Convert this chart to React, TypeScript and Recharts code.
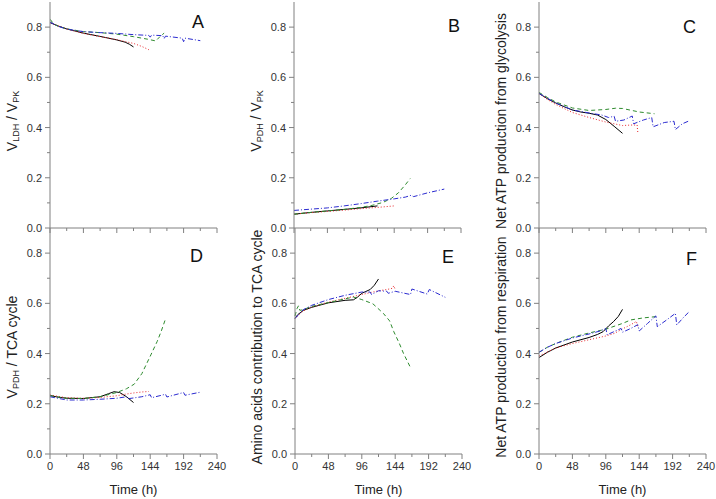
import { Line, LineChart, XAxis, YAxis } from "recharts";

type Pt = [number, number];

// Time axis (h) and ratio axis ticks; every second tick gets a label.
const timeTicks = [0, 24, 48, 72, 96, 120, 144, 168, 192, 216, 240];
const ratioTicks = [0, 0.1, 0.2, 0.3, 0.4, 0.5, 0.6, 0.7, 0.8];

// A: V_LDH / V_PK
const aBlack: Pt[] = [[0, 0.818], [12, 0.804], [24, 0.793], [48, 0.776], [72, 0.763], [96, 0.749], [108, 0.74], [114, 0.732], [120, 0.721]];
const aRed: Pt[] = [[0, 0.818], [24, 0.792], [48, 0.775], [72, 0.762], [96, 0.75], [120, 0.735], [132, 0.723], [142, 0.71]];
const aGreen: Pt[] = [[0, 0.83], [2, 0.826], [4, 0.814], [12, 0.803], [24, 0.793], [48, 0.782], [72, 0.778], [96, 0.772], [120, 0.762], [140, 0.752], [152, 0.745], [158, 0.762], [164, 0.776]];
const aBlue: Pt[] = [[0, 0.82], [12, 0.803], [24, 0.792], [48, 0.782], [72, 0.778], [96, 0.775], [120, 0.77], [142, 0.767], [144, 0.76], [146, 0.768], [162, 0.766], [164, 0.754], [166, 0.764], [190, 0.756], [192, 0.742], [194, 0.756], [216, 0.746]];

// B: V_PDH / V_PK
const bBlack: Pt[] = [[0, 0.055], [24, 0.062], [48, 0.068], [72, 0.074], [96, 0.08], [120, 0.088]];
const bRed: Pt[] = [[0, 0.055], [24, 0.061], [48, 0.066], [72, 0.071], [96, 0.077], [120, 0.082], [144, 0.088]];
const bGreen: Pt[] = [[0, 0.055], [24, 0.062], [48, 0.068], [72, 0.074], [96, 0.082], [112, 0.09], [128, 0.102], [140, 0.118], [150, 0.14], [160, 0.172], [167, 0.197]];
const bBlue: Pt[] = [[0, 0.07], [24, 0.075], [48, 0.08], [72, 0.088], [96, 0.097], [120, 0.107], [144, 0.116], [160, 0.123], [168, 0.13], [172, 0.125], [192, 0.14], [216, 0.155]];

// C: Net ATP production from glycolysis
const cBlack: Pt[] = [[0, 0.536], [12, 0.515], [24, 0.498], [36, 0.483], [48, 0.47], [60, 0.462], [72, 0.457], [84, 0.45], [96, 0.432], [108, 0.405], [120, 0.377]];
const cRed: Pt[] = [[0, 0.536], [12, 0.512], [24, 0.492], [48, 0.46], [72, 0.44], [96, 0.422], [120, 0.408], [132, 0.41], [141, 0.41], [142, 0.38]];
const cGreen: Pt[] = [[0, 0.54], [12, 0.52], [24, 0.502], [48, 0.478], [72, 0.468], [96, 0.472], [110, 0.477], [120, 0.476], [144, 0.462], [166, 0.455]];
const cBlue: Pt[] = [[0, 0.536], [24, 0.498], [48, 0.47], [72, 0.458], [90, 0.45], [100, 0.44], [108, 0.445], [110, 0.425], [122, 0.43], [134, 0.446], [136, 0.415], [150, 0.43], [162, 0.44], [164, 0.403], [180, 0.42], [194, 0.425], [196, 0.392], [206, 0.415], [216, 0.427]];

// D: V_PDH / TCA cycle
const dBlack: Pt[] = [[0, 0.233], [12, 0.226], [24, 0.222], [48, 0.221], [72, 0.228], [84, 0.24], [92, 0.248], [100, 0.245], [110, 0.228], [120, 0.205]];
const dRed: Pt[] = [[0, 0.235], [24, 0.224], [48, 0.222], [72, 0.225], [96, 0.232], [108, 0.238], [120, 0.243], [132, 0.247], [142, 0.249]];
const dGreen: Pt[] = [[0, 0.232], [24, 0.222], [48, 0.221], [72, 0.228], [96, 0.245], [110, 0.26], [121, 0.278], [132, 0.32], [145, 0.395], [154, 0.448], [160, 0.49], [166, 0.538]];
const dBlue: Pt[] = [[0, 0.228], [24, 0.215], [48, 0.215], [72, 0.218], [96, 0.222], [110, 0.228], [112, 0.22], [132, 0.228], [144, 0.236], [146, 0.224], [166, 0.238], [168, 0.227], [192, 0.245], [194, 0.234], [216, 0.246]];

// E: Amino acids contribution to TCA cycle
const eBlack: Pt[] = [[0, 0.54], [4, 0.555], [12, 0.572], [24, 0.584], [48, 0.602], [72, 0.612], [84, 0.614], [90, 0.625], [96, 0.64], [108, 0.655], [114, 0.672], [120, 0.697]];
const eRed: Pt[] = [[0, 0.54], [12, 0.57], [24, 0.585], [48, 0.605], [72, 0.62], [96, 0.635], [120, 0.65], [132, 0.655], [140, 0.66], [142, 0.67], [144, 0.655]];
const eGreen: Pt[] = [[0, 0.55], [3, 0.58], [5, 0.59], [7, 0.572], [12, 0.575], [24, 0.588], [48, 0.603], [72, 0.618], [84, 0.625], [96, 0.615], [112, 0.598], [127, 0.56], [136, 0.53], [142, 0.487], [150, 0.44], [156, 0.4], [166, 0.344]];
const eBlue: Pt[] = [[0, 0.54], [12, 0.575], [24, 0.592], [48, 0.615], [72, 0.632], [96, 0.645], [108, 0.645], [110, 0.635], [120, 0.65], [132, 0.648], [134, 0.64], [144, 0.648], [166, 0.635], [168, 0.657], [190, 0.637], [193, 0.655], [216, 0.624]];

// F: Net ATP production from respiration
const fBlack: Pt[] = [[0, 0.384], [12, 0.405], [24, 0.422], [48, 0.446], [72, 0.464], [84, 0.476], [92, 0.487], [100, 0.51], [107, 0.527], [114, 0.548], [120, 0.576]];
const fRed: Pt[] = [[0, 0.39], [24, 0.422], [48, 0.44], [72, 0.455], [96, 0.47], [108, 0.48], [120, 0.498], [132, 0.515], [140, 0.528], [142, 0.505]];
const fGreen: Pt[] = [[0, 0.405], [12, 0.425], [24, 0.44], [48, 0.465], [72, 0.482], [96, 0.497], [120, 0.52], [132, 0.534], [150, 0.542], [168, 0.547]];
const fBlue: Pt[] = [[0, 0.405], [12, 0.425], [24, 0.44], [48, 0.462], [72, 0.478], [88, 0.49], [96, 0.5], [98, 0.475], [110, 0.49], [118, 0.5], [120, 0.485], [132, 0.5], [142, 0.515], [144, 0.49], [156, 0.52], [168, 0.55], [170, 0.507], [184, 0.535], [196, 0.56], [198, 0.514], [208, 0.545], [216, 0.567]];

const FONT = "'Liberation Sans', Arial, sans-serif";
const AXIS = "#808080";
const PLOT_W = 167;
const PLOT_H = 226;
const Y_AXIS_W = 52;

type Part = { text: string; sub?: boolean };

const panels = [
  { letter: "A", left: 50, top: 2, row: 0, label: [{ text: "V" }, { text: "LDH", sub: true }, { text: " / V" }, { text: "PK", sub: true }], lines: [aBlack, aRed, aGreen, aBlue] },
  { letter: "B", left: 294, top: 2, row: 0, label: [{ text: "V" }, { text: "PDH", sub: true }, { text: " / V" }, { text: "PK", sub: true }], lines: [bBlack, bRed, bGreen, bBlue] },
  { letter: "C", left: 539, top: 2, row: 0, label: [{ text: "Net ATP production from glycolysis" }], lines: [cBlack, cRed, cGreen, cBlue] },
  { letter: "D", left: 50, top: 228, row: 1, label: [{ text: "V" }, { text: "PDH", sub: true }, { text: " / TCA cycle" }], lines: [dBlack, dRed, dGreen, dBlue] },
  { letter: "E", left: 295, top: 228, row: 1, label: [{ text: "Amino acids contribution to TCA cycle" }], lines: [eBlack, eRed, eGreen, eBlue] },
  { letter: "F", left: 539, top: 228, row: 1, label: [{ text: "Net ATP production from respiration" }], lines: [fBlack, fRed, fGreen, fBlue] },
];

const letterPos: Record<string, [number, number]> = {
  A: [192, 28], B: [448, 32], C: [683, 33], D: [190, 262], E: [442, 263], F: [686, 265],
};

const lineStyles = [
  { stroke: "#000000", dash: undefined },
  { stroke: "#e8262b", dash: "1 2" },
  { stroke: "#2e8b2e", dash: "4 3" },
  { stroke: "#2b2bd0", dash: "5 2 1 2" },
];

const YTick = (props: any) => {
  const { x, y, payload } = props;
  const v = payload.value as number;
  const major = Math.round(v * 10) % 2 === 0;
  return (
    <g>
      <line x1={x - (major ? 5 : 3)} x2={x} y1={y} y2={y} stroke={AXIS} />
      {major && (
        <text x={x - 8} y={y} textAnchor="end" dominantBaseline="central" fontSize={11} fill="#333" fontFamily={FONT}>
          {v.toFixed(1)}
        </text>
      )}
    </g>
  );
};

const makeXTick = (showLabel: boolean) => (props: any) => {
  const { x, y, payload } = props;
  const v = payload.value as number;
  const major = v % 48 === 0;
  return (
    <g>
      <line x1={x} x2={x} y1={y} y2={y + (major ? 5 : 3)} stroke={AXIS} />
      {showLabel && major && (
        <text x={x} y={y + 16} textAnchor="middle" fontSize={11} fill="#333" fontFamily={FONT}>
          {v}
        </text>
      )}
    </g>
  );
};

const YTitle = (props: any) => {
  const { viewBox, parts } = props;
  const cx = viewBox.x + viewBox.width - 38;
  const cy = viewBox.y + viewBox.height / 2 + 6;
  let shift = 0;
  return (
    <text
      transform={`translate(${cx},${cy}) rotate(-90)`}
      textAnchor="middle"
      dominantBaseline="central"
      fontSize={14}
      fill="#222"
      fontFamily={FONT}
    >
      {(parts as Part[]).map((p, i) => {
        const dy = (p.sub ? 4 : 0) - shift;
        shift = p.sub ? 4 : 0;
        return (
          <tspan key={i} dy={dy} fontSize={p.sub ? 9 : 14}>
            {p.text}
          </tspan>
        );
      })}
    </text>
  );
};

const XTitle = (props: any) => {
  const { viewBox } = props;
  return (
    <text x={viewBox.x + viewBox.width / 2} y={viewBox.y + 40} textAnchor="middle" fontSize={13} fill="#222" fontFamily={FONT}>
      Time (h)
    </text>
  );
};

function Panel({ p }: { p: (typeof panels)[number] }) {
  const bottomRow = p.row === 1;
  const mTop = bottomRow ? 10 : 2;
  const xH = bottomRow ? 45 : 12;
  return (
    <div style={{ position: "absolute", left: p.left - Y_AXIS_W, top: p.top - mTop }}>
      <LineChart
        width={Y_AXIS_W + PLOT_W + 20}
        height={mTop + PLOT_H + xH}
        margin={{ top: mTop, right: 20, bottom: 0, left: 0 }}
      >
        <XAxis
          type="number"
          dataKey="t"
          domain={[0, 240]}
          ticks={timeTicks}
          interval={0}
          height={xH}
          tickSize={0}
          tickMargin={0}
          tickLine={false}
          axisLine={{ stroke: AXIS }}
          tick={makeXTick(bottomRow)}
          label={bottomRow ? <XTitle /> : undefined}
        />
        <YAxis
          type="number"
          domain={[0, 0.9]}
          ticks={ratioTicks}
          interval={0}
          width={Y_AXIS_W}
          tickSize={0}
          tickMargin={0}
          tickLine={false}
          axisLine={{ stroke: AXIS }}
          tick={YTick}
          label={<YTitle parts={p.label} />}
        />
        {p.lines.map((pts, i) => (
          <Line
            key={i}
            data={pts.map(([t, v]) => ({ t, v }))}
            dataKey="v"
            type="linear"
            stroke={lineStyles[i].stroke}
            strokeDasharray={lineStyles[i].dash}
            strokeWidth={1}
            dot={false}
            isAnimationActive={false}
          />
        ))}
      </LineChart>
    </div>
  );
}

export default function App() {
  return (
    <div style={{ position: "absolute", left: 0, top: 0, width: 716, height: 499, background: "#fff", overflow: "hidden" }}>
      {panels.map((p) => (
        <Panel key={p.letter} p={p} />
      ))}
      <svg width={716} height={499} style={{ position: "absolute", left: 0, top: 0, pointerEvents: "none" }}>
        {panels.map((p) => (
          <text key={p.letter} x={letterPos[p.letter][0]} y={letterPos[p.letter][1]} fontSize={18} fill="#111" fontFamily={FONT}>
            {p.letter}
          </text>
        ))}
      </svg>
    </div>
  );
}
